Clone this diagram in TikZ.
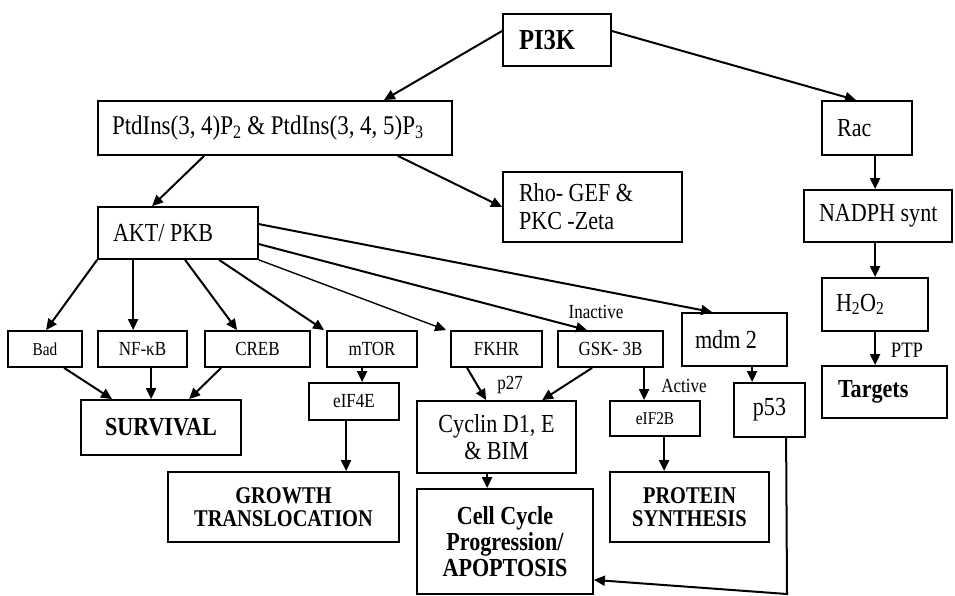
\documentclass[tikz,border=0pt]{standalone}
\usepackage{fontspec}
\setmainfont{Liberation Serif}[FakeStretch=0.85]
\usetikzlibrary{arrows.meta,calc}
\begin{document}
\begin{tikzpicture}[x=1pt,y=-1pt,
  box/.style={draw, line width=1.8pt, inner ysep=0pt, inner xsep=2pt, align=flush center},
  lbox/.style={box, align=flush left},
  arr/.style={line width=2pt, line join=miter, -{Triangle[length=11pt,width=10pt]}},
  thinarr/.style={arr, line width=1.4pt},
  lbl/.style={inner sep=0pt, anchor=base},
  fL/.style={font=\fontsize{27}{28}\selectfont},
  fM/.style={font=\fontsize{26}{28}\selectfont},
  fS/.style={font=\fontsize{20}{22}\selectfont},
  fXS/.style={font=\fontsize{18}{20}\selectfont}]
\useasboundingbox (0,0) rectangle (955,596);

% top row
\node[lbox, font=\bfseries\fontsize{29}{30}\selectfont, minimum width=108pt, minimum height=52pt, inner xsep=16pt, text width=76pt] (pi3k) at (557,40) {\mbox{PI3K}};
\node[lbox, fL, minimum width=354pt, minimum height=54pt, inner xsep=14pt, text width=326pt] (ptd) at (275,128) {\mbox{PtdIns(3, 4)P\textsubscript{2} \& PtdIns(3, 4, 5)P\textsubscript{3}}};
\node[lbox, fM, minimum width=160pt, minimum height=52pt, inner xsep=15pt, text width=130pt] (akt) at (178,233) {\mbox{AKT/ PKB}};
\node[lbox, fM, minimum width=179pt, minimum height=70pt, inner xsep=16pt, text width=147pt] (rho) at (592.5,207) {\mbox{Rho- GEF \&}\\\mbox{PKC -Zeta}};

% right column
\node[lbox, fM, minimum width=90pt, minimum height=54pt, inner xsep=15pt, text width=60pt] (rac) at (867,128) {\mbox{Rac}};
\node[lbox, fM, minimum width=148pt, minimum height=52pt, inner xsep=15pt, text width=118pt] (nadph) at (878,216) {\mbox{NADPH synt}};
\node[lbox, fM, minimum width=106pt, minimum height=53pt, inner xsep=14pt, text width=78pt] (hoo) at (875,304.5) {\mbox{H\textsubscript{2}O\textsubscript{2}}};
\node[lbox, font=\bfseries\fontsize{26}{28}\selectfont, minimum width=125pt, minimum height=52pt, inner xsep=16pt, text width=93pt] (tgt) at (884.5,392) {\mbox{Targets}};

% second level
\node[box, fXS, minimum width=74pt, minimum height=36pt] (bad) at (45,349) {Bad};
\node[box, fS, minimum width=89pt, minimum height=36pt] (nfkb) at (142.5,349) {NF-κB};
\node[box, fS, minimum width=105pt, minimum height=36pt] (creb) at (257.5,349) {CREB};
\node[box, fS, minimum width=90pt, minimum height=36pt] (mtor) at (372,349) {mTOR};
\node[box, fS, minimum width=91pt, minimum height=36pt] (fkhr) at (496.5,349) {FKHR};
\node[box, fS, minimum width=105pt, minimum height=36pt] (gsk) at (610.5,349) {GSK- 3B};
\node[lbox, fM, minimum width=105pt, minimum height=53pt, inner xsep=13pt, text width=79pt] (mdm) at (734.5,339.5) {\mbox{mdm 2}};

% third level
\node[box, font=\bfseries\fontsize{26}{28}\selectfont, minimum width=160pt, minimum height=55pt] (surv) at (161,427.5) {SURVIVAL};
\node[box, fS, minimum width=90pt, minimum height=37pt] (eif4e) at (354,401.5) {eIF4E};
\node[box, font=\fontsize{26}{27}\selectfont, minimum width=159pt, minimum height=72pt] (cyc) at (496.5,437) {Cyclin D1, E\\\& BIM};
\node[box, fXS, minimum width=90pt, minimum height=35pt] (eif2b) at (655,418.5) {eIF2B};
\node[box, fM, minimum width=71pt, minimum height=54pt] (p53) at (769.5,410) {p53};

% bottom level
\node[box, font=\bfseries\fontsize{24}{23}\selectfont, minimum width=231pt, minimum height=70pt] (growth) at (283.5,507) {GROWTH\\TRANSLOCATION};
\node[box, font=\bfseries\fontsize{26}{26}\selectfont, minimum width=176pt, minimum height=105pt] (cell) at (505,541.5) {Cell Cycle\\Progression/\\APOPTOSIS};
\node[box, font=\bfseries\fontsize{24}{23}\selectfont, minimum width=159pt, minimum height=70pt] (prot) at (689.5,507) {PROTEIN\\SYNTHESIS};

% labels
\node[lbl, fS] (inact) at (596,318) {Inactive};
\node[lbl, fS] (act) at (684,392) {Active};
\node[lbl, fS] (p27) at (510,389) {p27};
\node[lbl, font=\fontsize{22}{24}\selectfont] (ptp) at (907,357) {PTP};

% connectors: top
\draw[arr] ($(pi3k.west)+(0,-9)$) -- ($(ptd.north east)+(-69,0)$);
\draw[arr] ($(pi3k.east)+(0,-9)$) -- ($(rac.north west)+(35,0)$);
\draw[arr] ($(ptd.south west)+(107,0)$) -- ($(akt.north west)+(55,0)$);
\draw[arr] ($(ptd.south east)+(-55,0)$) -- (rho.west);
\draw[arr] ($(rac.south west)+(54,0)$) -- ($(nadph.north west)+(72,0)$);
\draw[arr] ($(nadph.south west)+(72,0)$) -- ($(hoo.north west)+(54,0)$);
\draw[arr] ($(hoo.south west)+(54,0)$) -- ($(tgt.north west)+(54,0)$);

% AKT branches
\draw[arr] (akt.south west) -- ($(bad.north west)+(39,0)$);
\draw[arr] ($(akt.south west)+(36,0)$) -- ($(nfkb.north west)+(36,0)$);
\draw[arr] ($(akt.south west)+(88,0)$) -- ($(creb.north west)+(33,0)$);
\draw[arr] ($(akt.south west)+(122,0)$) -- ($(mtor.north west)+(-2,0)$);
\draw[thinarr] (akt.south east) -- ($(fkhr.north west)+(-4,0)$);
\draw[arr] ($(akt.north east)+(0,38)$) -- ($(gsk.north west)+(30,0)$);
\draw[arr] ($(akt.north east)+(0,18)$) -- ($(mdm.north west)+(31,0)$);

% lower connectors
\draw[arr] ($(bad.south west)+(57,0)$) -- ($(surv.north west)+(32,0)$);
\draw[arr] ($(nfkb.south west)+(54,0)$) -- ($(surv.north west)+(71,0)$);
\draw[arr] ($(creb.south west)+(17,0)$) -- ($(surv.north west)+(109,0)$);
\draw[arr] ($(mtor.south west)+(36,0)$) -- ($(eif4e.north west)+(54,0)$);
\draw[arr] ($(eif4e.south west)+(38,0)$) -- ($(growth.north west)+(179,0)$);
\draw[arr] ($(fkhr.south west)+(17,0)$) -- ($(cyc.north west)+(70,0)$);
\draw[arr] ($(gsk.south west)+(35,0)$) -- ($(cyc.north west)+(126,0)$);
\draw[arr] ($(cyc.south west)+(71,0)$) -- ($(cell.north west)+(71,0)$);
\draw[arr] ($(gsk.south west)+(87,0)$) -- ($(eif2b.north west)+(35,0)$);
\draw[arr] ($(eif2b.south west)+(55,0)$) -- ($(prot.north west)+(55,0)$);
\draw[arr] ($(mdm.south west)+(71,0)$) -- ($(p53.north west)+(19,0)$);
\coordinate (pcorner) at (787,594);
\draw[arr] ($(p53.south west)+(53,0)$) -- (pcorner) -- ($(cell.south east)+(0,-15)$);
\end{tikzpicture}
\end{document}
